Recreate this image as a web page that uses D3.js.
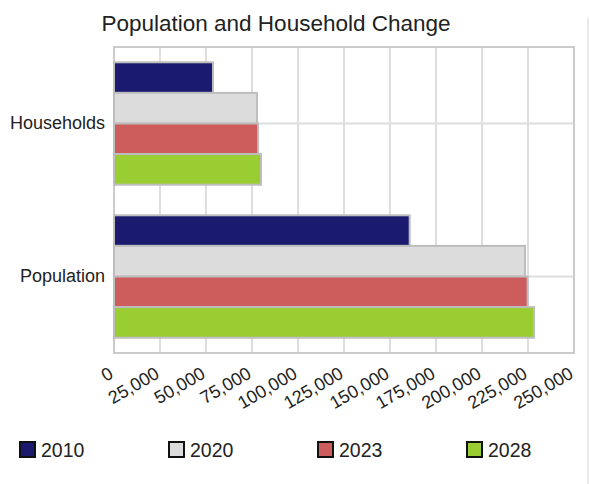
<!DOCTYPE html>
<html>
<head>
<meta charset="utf-8">
<script src="https://cdn.jsdelivr.net/npm/d3@7"></script>
<style>
  body { margin: 0; background: #fff; }
  text { font-family: "Liberation Sans", Arial, sans-serif; fill: #222; }
</style>
</head>
<body>
<div class="chart"></div>
<script>
var svgWidth = 590;
var svgHeight = 484;

// Data
var categories = ["Households", "Population"];
var years = ["2010", "2020", "2023", "2028"];
var colors = ["#1a1a6e", "#dcdcdc", "#cd5c5c", "#9acd32"];
var households = [53800, 77700, 78300, 79900];
var population = [160700, 223400, 224800, 228300];
var xTicks = [0, 25000, 50000, 75000, 100000, 125000, 150000, 175000, 200000, 225000, 250000];

var rows = [households, population];

var margin = { top: 47, left: 114, right: 16, bottom: 131 };
var width = svgWidth - margin.left - margin.right;
var height = svgHeight - margin.top - margin.bottom;

var svg = d3.select(".chart")
  .append("svg")
  .attr("width", svgWidth)
  .attr("height", svgHeight);

// right edge frame line
svg.append("line")
  .attr("x1", 588).attr("x2", 588)
  .attr("y1", 18).attr("y2", svgHeight)
  .attr("stroke", "#e2e2e2")
  .attr("stroke-width", 1.5);

svg.append("text")
  .attr("x", 276)
  .attr("y", 31)
  .attr("text-anchor", "middle")
  .style("font-size", "22.5px")
  .text("Population and Household Change");

var chartGroup = svg.append("g")
  .attr("transform", `translate(${margin.left}, ${margin.top})`);

// Scales
var xScale = d3.scaleLinear()
  .domain([0, 250000])
  .range([0, width]);

var yScale = d3.scaleBand()
  .domain(categories)
  .range([0, height])
  .paddingInner(0.2)
  .paddingOuter(0.1);

var ySub = d3.scaleBand()
  .domain(years)
  .range([0, yScale.bandwidth()]);

// Grid
chartGroup.append("g")
  .selectAll("line")
  .data(xTicks)
  .enter()
  .append("line")
  .attr("x1", d => xScale(d))
  .attr("x2", d => xScale(d))
  .attr("y1", 0)
  .attr("y2", height)
  .attr("stroke", "#dedede")
  .attr("stroke-width", 2);

chartGroup.append("g")
  .selectAll("line")
  .data(categories)
  .enter()
  .append("line")
  .attr("x1", 0)
  .attr("x2", width)
  .attr("y1", d => yScale(d) + yScale.bandwidth() / 2)
  .attr("y2", d => yScale(d) + yScale.bandwidth() / 2)
  .attr("stroke", "#dedede")
  .attr("stroke-width", 2);

chartGroup.append("rect")
  .attr("width", width)
  .attr("height", height)
  .attr("fill", "none")
  .attr("stroke", "#cccccc")
  .attr("stroke-width", 2);

// Bars
categories.forEach(function (cat, ci) {
  chartGroup.append("g")
    .attr("transform", `translate(0, ${yScale(cat)})`)
    .selectAll("rect")
    .data(rows[ci])
    .enter()
    .append("rect")
    .attr("x", 0)
    .attr("y", (d, i) => ySub(years[i]))
    .attr("width", d => xScale(d))
    .attr("height", ySub.bandwidth())
    .attr("fill", (d, i) => colors[i])
    .attr("stroke", "#bdbdbd")
    .attr("stroke-width", 2);
});

// Axes labels
var leftAxis = d3.axisLeft(yScale).tickSize(0).tickPadding(9);
var yAxisG = chartGroup.append("g").call(leftAxis);
yAxisG.select(".domain").remove();
yAxisG.selectAll("text")
  .style("font-size", "18px")
  .attr("fill", "#222");

var bottomAxis = d3.axisBottom(xScale)
  .tickValues(xTicks)
  .tickSize(0)
  .tickFormat(d3.format(","));
var xAxisG = chartGroup.append("g")
  .attr("transform", `translate(0, ${height})`)
  .call(bottomAxis);
xAxisG.select(".domain").remove();
xAxisG.selectAll("text")
  .style("font-size", "18px")
  .attr("fill", "#222")
  .attr("y", 0)
  .attr("dy", "0")
  .style("text-anchor", "end")
  .attr("transform", "translate(0, 24) rotate(-30)");

// Legend
var legend = svg.append("g")
  .selectAll("g")
  .data(years)
  .enter()
  .append("g")
  .attr("transform", (d, i) => `translate(${20 + i * 149}, 442)`);

legend.append("rect")
  .attr("width", 15)
  .attr("height", 15)
  .attr("fill", (d, i) => colors[i])
  .attr("stroke", "#111")
  .attr("stroke-width", 2);

legend.append("text")
  .attr("x", 21)
  .attr("y", 15)
  .style("font-size", "19.5px")
  .text(d => d);
</script>
</body>
</html>
